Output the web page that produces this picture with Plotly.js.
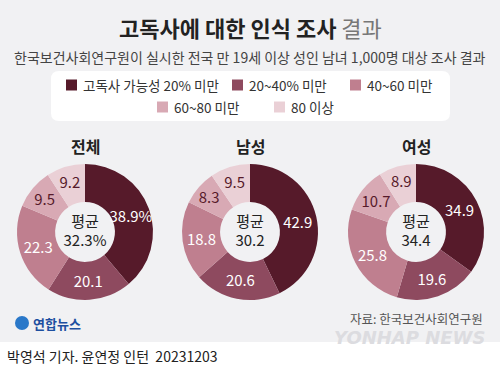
<!DOCTYPE html>
<html><head><meta charset="utf-8">
<script src="https://cdn.plot.ly/plotly-3.0.1.min.js"></script>
<style>html,body{margin:0;padding:0;background:#f1f1f3;}#chart{width:500px;height:369px;}</style>
</head><body><div id="chart"></div>
<script>
const categories = ['고독사 가능성 20% 미만', '20~40% 미만', '40~60 미만', '60~80 미만', '80 이상'];
const groups = ['전체', '남성', '여성'];
const totalValues = [38.9, 20.1, 22.3, 9.5, 9.2];
const maleValues = [42.9, 20.6, 18.8, 8.3, 9.5];
const femaleValues = [34.9, 19.6, 25.8, 10.7, 8.9];
const averages = ['32.3%', '30.2', '34.4'];
const colors = ['#561a2a', '#8e4a5f', '#bf7f8f', '#d8a9b4', '#ead0d6'];
const textColors = ['#ffffff', '#ffffff', '#ffffff', '#561a2a', '#561a2a'];

const FONT = 'Noto Sans CJK KR, Noto Sans, sans-serif';
const W = 500, H = 369;
const px = x => x / W;
const py = y => 1 - y / H;

const seriesList = [totalValues, maleValues, femaleValues];
const centersX = [85, 250, 416];
const cy = 232, R = 68;

const traces = seriesList.map((vals, i) => ({
  type: 'pie',
  values: vals,
  labels: categories,
  text: vals.map((v, j) => (i === 0 && j === 0) ? v.toFixed(1) + '%' : v.toFixed(1)),
  textinfo: 'text',
  textposition: 'inside',
  insidetextorientation: 'horizontal',
  insidetextfont: {family: FONT, size: 15, color: textColors},
  hoverinfo: 'label+value',
  sort: false,
  direction: 'clockwise',
  rotation: 0,
  hole: 0.44,
  marker: {colors: colors, line: {width: 0}},
  showlegend: false,
  title: {text: '평균<br>' + averages[i], position: 'middle center', font: {family: FONT, size: 15, color: '#222'}},
  domain: {x: [px(centersX[i] - R), px(centersX[i] + R)], y: [py(cy + R), py(cy - R)]}
}));

const annotations = [];
const shapes = [];

// Title
annotations.push({xref: 'paper', yref: 'paper', x: 0.5, y: py(27), xanchor: 'center', yanchor: 'middle', showarrow: false,
  text: '<b>고독사에 대한 인식 조사</b> <span style="color:#777">결과</span>', font: {family: FONT, size: 22, color: '#222'}});
annotations.push({xref: 'paper', yref: 'paper', x: 0.5, y: py(57), xanchor: 'center', yanchor: 'middle', showarrow: false,
  text: '한국보건사회연구원이 실시한 전국 만 19세 이상 성인 남녀 1,000명 대상 조사 결과', font: {family: FONT, size: 14, color: '#444'}});

// Legend box
const bx0 = 51, bx1 = 450, by0 = 71, by1 = 121, r = 8;
shapes.push({type: 'path', xref: 'paper', yref: 'paper', fillcolor: '#ffffff', line: {width: 0}, layer: 'below',
  path: `M ${px(bx0 + r)} ${py(by0)} L ${px(bx1 - r)} ${py(by0)} Q ${px(bx1)} ${py(by0)} ${px(bx1)} ${py(by0 + r)} L ${px(bx1)} ${py(by1 - r)} Q ${px(bx1)} ${py(by1)} ${px(bx1 - r)} ${py(by1)} L ${px(bx0 + r)} ${py(by1)} Q ${px(bx0)} ${py(by1)} ${px(bx0)} ${py(by1 - r)} L ${px(bx0)} ${py(by0 + r)} Q ${px(bx0)} ${py(by0)} ${px(bx0 + r)} ${py(by0)} Z`});
const legendPos = [[66, 85], [232, 85], [350, 85], [157, 107], [274, 107]];
categories.forEach((c, i) => {
  const [lx, ly] = legendPos[i];
  shapes.push({type: 'rect', xref: 'paper', yref: 'paper', x0: px(lx), x1: px(lx + 11), y0: py(ly + 5.5), y1: py(ly - 5.5), fillcolor: colors[i], line: {width: 0}});
  annotations.push({xref: 'paper', yref: 'paper', x: px(lx + 15), y: py(ly), xanchor: 'left', yanchor: 'middle', showarrow: false,
    text: c, font: {family: FONT, size: 13.5, color: '#333'}});
});

// Group titles
groups.forEach((g, i) => {
  annotations.push({xref: 'paper', yref: 'paper', x: px(centersX[i]), y: py(146), xanchor: 'center', yanchor: 'middle', showarrow: false,
    text: '<b>' + g + '</b>', font: {family: FONT, size: 16, color: '#222'}});
});

// Footer
annotations.push({xref: 'paper', yref: 'paper', x: px(485), y: py(318), xanchor: 'right', yanchor: 'middle', showarrow: false,
  text: '자료: 한국보건사회연구원', font: {family: FONT, size: 12.5, color: '#555'}});
annotations.push({xref: 'paper', yref: 'paper', x: px(487), y: py(337), xanchor: 'right', yanchor: 'middle', showarrow: false,
  text: '<b><i>YONHAP NEWS</i></b>', font: {family: 'DejaVu Sans, sans-serif', size: 18, color: '#dcdce0'}});
annotations.push({xref: 'paper', yref: 'paper', x: px(31), y: py(323), xanchor: 'left', yanchor: 'middle', showarrow: false,
  text: '<b>연합뉴스</b>', font: {family: FONT, size: 13, color: '#1d4fa0'}});
shapes.push({type: 'circle', xref: 'paper', yref: 'paper', x0: px(15), x1: px(29), y0: py(330), y1: py(316), fillcolor: '#2a78c9', line: {width: 0}});
shapes.push({type: 'rect', xref: 'paper', yref: 'paper', x0: 0, x1: 1, y0: 0, y1: py(342), fillcolor: '#ffffff', line: {width: 0}, layer: 'below'});
annotations.push({xref: 'paper', yref: 'paper', x: px(5), y: py(356), xanchor: 'left', yanchor: 'middle', showarrow: false,
  text: '박영석 기자. 윤연정 인턴  20231203', font: {family: FONT, size: 14, color: '#222'}});

const layout = {
  width: W, height: H,
  margin: {l: 0, r: 0, t: 0, b: 0},
  paper_bgcolor: '#f1f1f3',
  plot_bgcolor: '#f1f1f3',
  font: {family: FONT},
  uniformtext: {minsize: 14.5, mode: 'show'},
  annotations: annotations,
  shapes: shapes,
  showlegend: false
};

Plotly.newPlot('chart', traces, layout, {displayModeBar: false, staticPlot: true});
</script>
</body></html>
